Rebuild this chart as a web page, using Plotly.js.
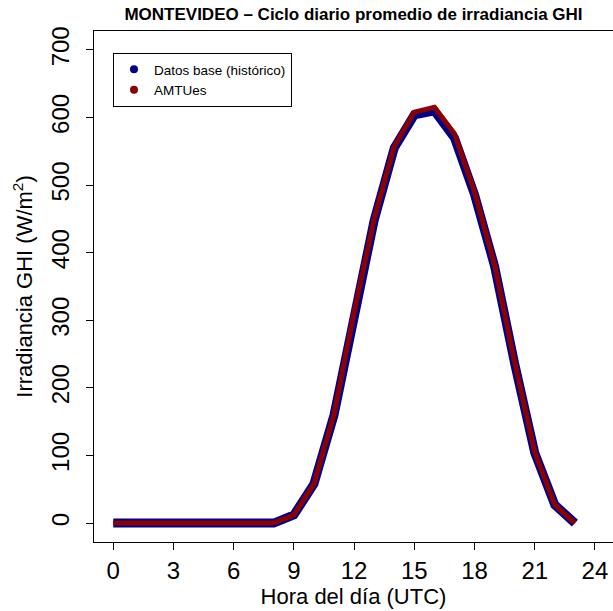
<!DOCTYPE html>
<html>
<head>
<meta charset="utf-8">
<script src="https://cdn.plot.ly/plotly-3.0.1.min.js"></script>
<style>html,body{margin:0;padding:0;background:#fff;}#chart{width:613px;height:611px;}</style>
</head>
<body>
<div id="chart"></div>
<script>
const hours = [0,1,2,3,4,5,6,7,8,9,10,11,12,13,14,15,16,17,18,19,20,21,22,23];
const ghiBase = [0,0,0,0,0,0,0,0,0,12,58,160,310,448,555,604,610,570,486,380,236,104,27,0];
const ghiAMTUes = [0,0,0,0,0,0,0,0,0,12,58,161,312,450,557,608,615,576,490,382,238,105,27,0];
const xTicks = [0,3,6,9,12,15,18,21,24];
const yTicks = [0,100,200,300,400,500,600,700];
const seriesNames = ['Datos base (histórico)', 'AMTUes'];
const seriesColors = ['#00008B', '#8B0000'];

const FONT = 'Liberation Sans, Arial, Helvetica, sans-serif';

const traces = [
  {x: hours, y: ghiBase, mode: 'lines', line: {color: seriesColors[0], width: 9}, showlegend: false, hoverinfo: 'skip'},
  {x: hours, y: ghiAMTUes, mode: 'lines', line: {color: seriesColors[1], width: 5}, showlegend: false, hoverinfo: 'skip'},
  {x: [null], y: [null], mode: 'markers', name: seriesNames[0], marker: {color: seriesColors[0], size: 8}},
  {x: [null], y: [null], mode: 'markers', name: seriesNames[1], marker: {color: seriesColors[1], size: 8}}
];

const layout = {
  width: 613, height: 611,
  margin: {l: 94, r: 0, t: 31, b: 69},
  paper_bgcolor: '#fff', plot_bgcolor: '#fff',
  font: {family: FONT, color: '#000'},
  title: {
    text: '<b>MONTEVIDEO – Ciclo diario promedio de irradiancia GHI</b>',
    font: {family: FONT, size: 17, color: '#000'},
    x: 0.5, xref: 'paper', y: 1 - 14/611, yref: 'container', yanchor: 'middle'
  },
  xaxis: {
    range: [-0.96, 24.9], tickvals: xTicks, ticktext: xTicks.map(String),
    ticks: 'outside', ticklen: 7, tickcolor: '#000', tickwidth: 1,
    showgrid: false, zeroline: false, showline: true, linecolor: '#000', linewidth: 1, mirror: true,
    tickfont: {family: FONT, size: 24, color: '#000'},
    title: {text: 'Hora del día (UTC)', font: {family: FONT, size: 22, color: '#000'}, standoff: 4}
  },
  yaxis: {
    range: [-28, 728], tickvals: yTicks, ticktext: yTicks.map(String),
    ticks: 'outside', ticklen: 7, tickcolor: '#000', tickwidth: 1, tickangle: -90,
    ticklabelstandoff: 7,
    showgrid: false, zeroline: false, showline: true, linecolor: '#000', linewidth: 1, mirror: true,
    tickfont: {family: FONT, size: 24, color: '#000'},
    title: {text: 'Irradiancia GHI (W/m<sup>2</sup>)', font: {family: FONT, size: 22, color: '#000'}, standoff: 8}
  },
  legend: {
    x: 0.0366, y: 0.957, xanchor: 'left', yanchor: 'top',
    bgcolor: '#fff', bordercolor: '#000', borderwidth: 1,
    font: {family: FONT, size: 13.5, color: '#000'},
    itemwidth: 30, tracegroupgap: 0
  },
  showlegend: true
};

Plotly.newPlot('chart', traces, layout, {staticPlot: true, displayModeBar: false});
</script>
</body>
</html>
